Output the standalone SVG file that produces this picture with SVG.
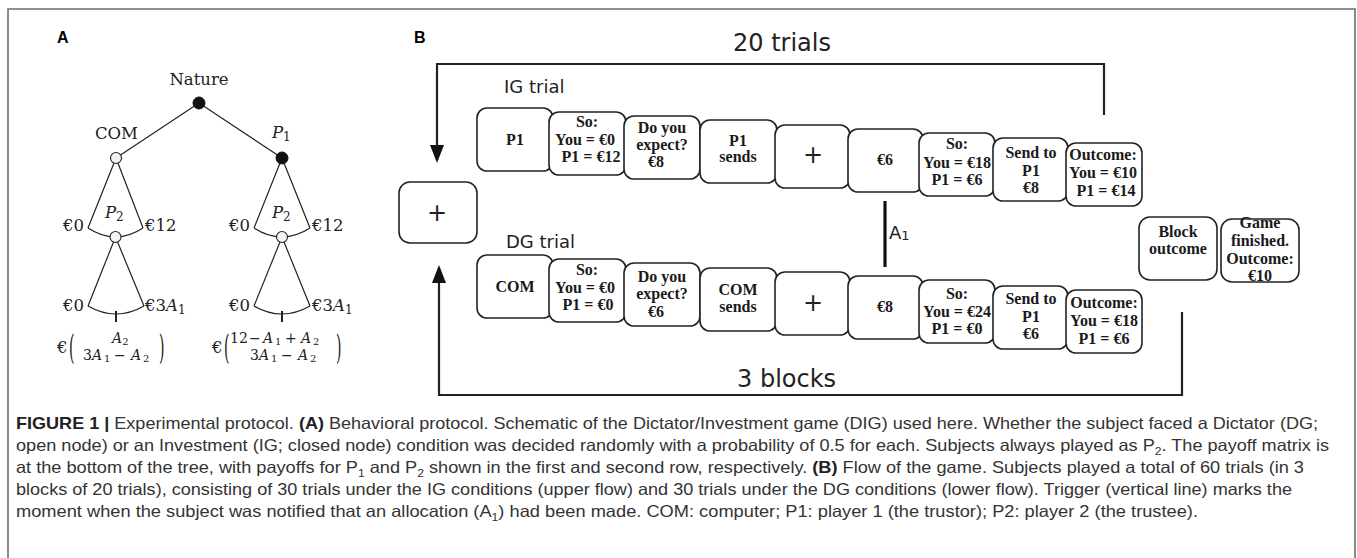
<svg xmlns="http://www.w3.org/2000/svg" width="1357" height="558" viewBox="0 0 1357 558">
<defs>
<style>
.frame{fill:none;stroke:#6e6e6e;stroke-width:1.6}
.edge{fill:none;stroke:#222;stroke-width:1.2}
.open{fill:#f7f1f1;stroke:#222;stroke-width:1.1}
.closed{fill:#111;stroke:#111;stroke-width:1}
.m{font-family:"DejaVu Serif",serif;font-size:16.5px;fill:#222}
.ms{font-family:"DejaVu Serif",serif;font-size:14px;fill:#222}
.it{font-style:italic}
.panel{font-family:"Liberation Sans",Arial,sans-serif;font-weight:bold;font-size:16px;fill:#000}
.bx{fill:#fff;stroke:#222;stroke-width:1.6}
.bt{font-family:"Liberation Serif","Times New Roman",serif;font-weight:bold;font-size:16px;fill:#1a1a1a;text-anchor:middle}
.pl{font-family:"DejaVu Sans",sans-serif;font-size:24px;fill:#222;text-anchor:middle}
.lab{font-family:"DejaVu Sans",sans-serif;font-size:18px;fill:#222}
.big{font-size:24px}
.loop{fill:none;stroke:#222;stroke-width:2.2}
.trig{fill:none;stroke:#111;stroke-width:3.2}
.cap{font-family:"Liberation Sans",Arial,sans-serif;font-size:16.5px;fill:#333}
.b{font-weight:bold;fill:#222}
</style>
<marker id="ah" viewBox="0 0 18 14" refX="15" refY="7" markerWidth="18" markerHeight="14" markerUnits="userSpaceOnUse" orient="auto">
<path d="M0,0 L18,7 L0,14 z" fill="#111"/>
</marker>
</defs>

<path class="frame" d="M8,558 V9 H1355 V558"/>

<!-- Panel A -->
<text class="panel" x="57" y="43">A</text>
<g id="tree-edges">
<path class="edge" d="M199,103 L116,158 M199,103 L282,158"/>
<path class="edge" d="M116,158 L88,228 M116,158 L143,228 M88,228 Q115.5,246 143,228"/>
<path class="edge" d="M115.5,237 L88,306 M115.5,237 L144,306 M88,306 Q116,322 144,306"/>
<path class="edge" d="M282,158 L254,228 M282,158 L310,228 M254,228 Q282,246 310,228"/>
<path class="edge" d="M282,237 L254,306 M282,237 L310,306 M254,306 Q282,322 310,306"/>
<path class="edge" d="M116,311 V322 M282,311 V322" style="stroke-width:2"/>
</g>
<g id="node-nature"><circle class="closed" cx="199" cy="103" r="6"/><text class="m" x="199" y="85" text-anchor="middle">Nature</text></g>
<g id="node-com"><circle class="open" cx="116" cy="158" r="5.5"/><text class="m" x="116.5" y="139" text-anchor="middle">COM</text></g>
<g id="node-p1"><circle class="closed" cx="282" cy="158" r="6"/><text class="m" x="272" y="138"><tspan class="it">P</tspan><tspan font-size="12" dy="3">1</tspan></text></g>
<g id="node-p2-left"><circle class="open" cx="115.5" cy="237" r="5.5"/>
<text class="m" x="105" y="218"><tspan class="it">P</tspan><tspan font-size="12" dy="3">2</tspan></text>
<text class="m" x="84" y="231" text-anchor="end">€0</text>
<text class="m" x="145" y="231">€12</text>
<text class="m" x="84" y="311" text-anchor="end">€0</text>
<text class="m" x="145" y="311">€3<tspan class="it">A</tspan><tspan font-size="12" dy="3">1</tspan></text>
</g>
<g id="node-p2-right"><circle class="open" cx="282" cy="237" r="5.5"/>
<text class="m" x="272" y="218"><tspan class="it">P</tspan><tspan font-size="12" dy="3">2</tspan></text>
<text class="m" x="250" y="231" text-anchor="end">€0</text>
<text class="m" x="312" y="231">€12</text>
<text class="m" x="250" y="311" text-anchor="end">€0</text>
<text class="m" x="312" y="311">€3<tspan class="it">A</tspan><tspan font-size="12" dy="3">1</tspan></text>
</g>
<g id="payoff-left">
<text class="m" x="57" y="353">€</text>
<text class="ms" transform="translate(69,348) scale(1,2.4)" x="0" y="4.4">(</text>
<text class="ms" transform="translate(159,348) scale(1,2.4)" x="0" y="4.4">)</text>
<text class="ms" x="112" y="343"><tspan class="it">A</tspan><tspan font-size="10" dy="2">2</tspan></text>
<text class="ms" y="360"><tspan x="83">3</tspan><tspan class="it" x="92">A</tspan><tspan font-size="10" x="104" dy="2">1</tspan><tspan x="114" dy="-2">−</tspan><tspan class="it" x="131">A</tspan><tspan font-size="10" x="143" dy="2">2</tspan></text>
</g>
<g id="payoff-right">
<text class="m" x="212" y="353">€</text>
<text class="ms" transform="translate(224,348) scale(1,2.4)" x="0" y="4.4">(</text>
<text class="ms" transform="translate(336,348) scale(1,2.4)" x="0" y="4.4">)</text>
<text class="ms" y="343"><tspan x="230">12</tspan><tspan x="249">−</tspan><tspan class="it" x="263">A</tspan><tspan font-size="10" x="275" dy="2">1</tspan><tspan x="285" dy="-2">+</tspan><tspan class="it" x="301">A</tspan><tspan font-size="10" x="313" dy="2">2</tspan></text>
<text class="ms" y="360"><tspan x="250">3</tspan><tspan class="it" x="259">A</tspan><tspan font-size="10" x="271" dy="2">1</tspan><tspan x="281" dy="-2">−</tspan><tspan class="it" x="298">A</tspan><tspan font-size="10" x="310" dy="2">2</tspan></text>
</g>

<!-- Panel B -->
<text class="panel" x="414" y="43">B</text>
<g id="connectors">
<path class="loop" d="M1104,115 V64 H437 V160" marker-end="url(#ah)"/>
<path class="loop" d="M1182,312 V395 H439 V268" marker-end="url(#ah)"/>
<path class="trig" d="M885,201 V267"/>
</g>
<text class="lab big" x="733" y="51">20 trials</text>
<text class="lab big" x="737" y="387">3 blocks</text>
<text class="lab" x="504" y="93">IG trial</text>
<text class="lab" x="506" y="248">DG trial</text>
<text class="lab" x="889" y="239" font-size="19">A<tspan font-size="13" dy="1">1</tspan></text>

<g id="fixation"><rect class="bx" x="399" y="182" width="78" height="61" rx="11"/><text class="pl" x="437" y="221">+</text></g>

<g id="ig-1"><rect class="bx" x="477" y="108" width="76" height="63" rx="10"/><text class="bt" x="515" y="145">P1</text></g>
<g id="ig-2"><rect class="bx" x="549" y="112" width="77" height="63" rx="10"/><text class="bt" x="587" y="127">So:</text><text class="bt" x="585" y="145">You = €0</text><text class="bt" x="591" y="162">P1 = €12</text></g>
<g id="ig-3"><rect class="bx" x="624" y="116" width="76" height="63" rx="10"/><text class="bt" x="662" y="133">Do you</text><text class="bt" x="662" y="150">expect?</text><text class="bt" x="656" y="167">€8</text></g>
<g id="ig-4"><rect class="bx" x="700" y="120" width="77" height="63" rx="10"/><text class="bt" x="738" y="146">P1</text><text class="bt" x="738" y="162">sends</text></g>
<g id="ig-5"><rect class="bx" x="775" y="125" width="75" height="63" rx="10"/><text class="pl" x="813" y="163">+</text></g>
<g id="ig-6"><rect class="bx" x="848" y="129" width="75" height="63" rx="10"/><text class="bt" x="885" y="165">€6</text></g>
<g id="ig-7"><rect class="bx" x="919" y="133" width="76" height="63" rx="10"/><text class="bt" x="957" y="149">So:</text><text class="bt" x="957" y="168">You = €18</text><text class="bt" x="957" y="185">P1 = €6</text></g>
<g id="ig-8"><rect class="bx" x="993" y="138" width="75" height="63" rx="10"/><text class="bt" x="1031" y="158">Send to</text><text class="bt" x="1031" y="176">P1</text><text class="bt" x="1031" y="193">€8</text></g>
<g id="ig-9"><rect class="bx" x="1066" y="143" width="76" height="63" rx="10"/><text class="bt" x="1103" y="160">Outcome:</text><text class="bt" x="1103" y="178">You = €10</text><text class="bt" x="1106" y="196">P1 = €14</text></g>

<g id="dg-1"><rect class="bx" x="477" y="255" width="76" height="63" rx="10"/><text class="bt" x="515" y="292">COM</text></g>
<g id="dg-2"><rect class="bx" x="549" y="259" width="77" height="63" rx="10"/><text class="bt" x="587" y="275">So:</text><text class="bt" x="585" y="293">You = €0</text><text class="bt" x="588" y="310">P1 = €0</text></g>
<g id="dg-3"><rect class="bx" x="624" y="263" width="76" height="63" rx="10"/><text class="bt" x="662" y="282">Do you</text><text class="bt" x="662" y="299">expect?</text><text class="bt" x="656" y="317">€6</text></g>
<g id="dg-4"><rect class="bx" x="700" y="268" width="77" height="63" rx="10"/><text class="bt" x="738" y="295">COM</text><text class="bt" x="738" y="312">sends</text></g>
<g id="dg-5"><rect class="bx" x="775" y="272" width="75" height="63" rx="10"/><text class="pl" x="813" y="311">+</text></g>
<g id="dg-6"><rect class="bx" x="848" y="276" width="75" height="63" rx="10"/><text class="bt" x="885" y="312">€8</text></g>
<g id="dg-7"><rect class="bx" x="919" y="280" width="76" height="63" rx="10"/><text class="bt" x="957" y="299">So:</text><text class="bt" x="957" y="317">You = €24</text><text class="bt" x="957" y="334">P1 = €0</text></g>
<g id="dg-8"><rect class="bx" x="993" y="286" width="75" height="63" rx="10"/><text class="bt" x="1031" y="304">Send to</text><text class="bt" x="1031" y="322">P1</text><text class="bt" x="1031" y="339">€6</text></g>
<g id="dg-9"><rect class="bx" x="1066" y="290" width="76" height="63" rx="10"/><text class="bt" x="1104" y="308">Outcome:</text><text class="bt" x="1104" y="326">You = €18</text><text class="bt" x="1104" y="344">P1 = €6</text></g>

<g id="block-outcome"><rect class="bx" x="1139" y="217" width="78" height="63" rx="11"/><text class="bt" x="1178" y="237">Block</text><text class="bt" x="1178" y="254">outcome</text></g>
<g id="game-finished"><rect class="bx" x="1221" y="219" width="78" height="63" rx="11"/><text class="bt" x="1260" y="228">Game</text><text class="bt" x="1260" y="246">finished.</text><text class="bt" x="1260" y="264">Outcome:</text><text class="bt" x="1260" y="281">€10</text></g>

<!-- Caption -->
<g id="caption">
<text class="cap" x="16" y="429" textLength="1302" lengthAdjust="spacingAndGlyphs"><tspan class="b">FIGURE 1 |</tspan> Experimental protocol. <tspan class="b">(A)</tspan> Behavioral protocol. Schematic of the Dictator/Investment game (DIG) used here. Whether the subject faced a Dictator (DG;</text>
<text class="cap" x="16" y="451" textLength="1313" lengthAdjust="spacingAndGlyphs">open node) or an Investment (IG; closed node) condition was decided randomly with a probability of 0.5 for each. Subjects always played as P<tspan font-size="11" dy="4">2</tspan><tspan dy="-4">. The payoff matrix is</tspan></text>
<text class="cap" x="16" y="473" textLength="1288" lengthAdjust="spacingAndGlyphs">at the bottom of the tree, with payoffs for P<tspan font-size="11" dy="4">1</tspan><tspan dy="-4"> and P</tspan><tspan font-size="11" dy="4">2</tspan><tspan dy="-4"> shown in the first and second row, respectively. </tspan><tspan class="b">(B)</tspan> Flow of the game. Subjects played a total of 60 trials (in 3</text>
<text class="cap" x="16" y="495" textLength="1276" lengthAdjust="spacingAndGlyphs">blocks of 20 trials), consisting of 30 trials under the IG conditions (upper flow) and 30 trials under the DG conditions (lower flow). Trigger (vertical line) marks the</text>
<text class="cap" x="16" y="517" textLength="1182" lengthAdjust="spacingAndGlyphs">moment when the subject was notified that an allocation (A<tspan font-size="11" dy="4">1</tspan><tspan dy="-4">) had been made. COM: computer; P1: player 1 (the trustor); P2: player 2 (the trustee).</tspan></text>
</g>
</svg>
